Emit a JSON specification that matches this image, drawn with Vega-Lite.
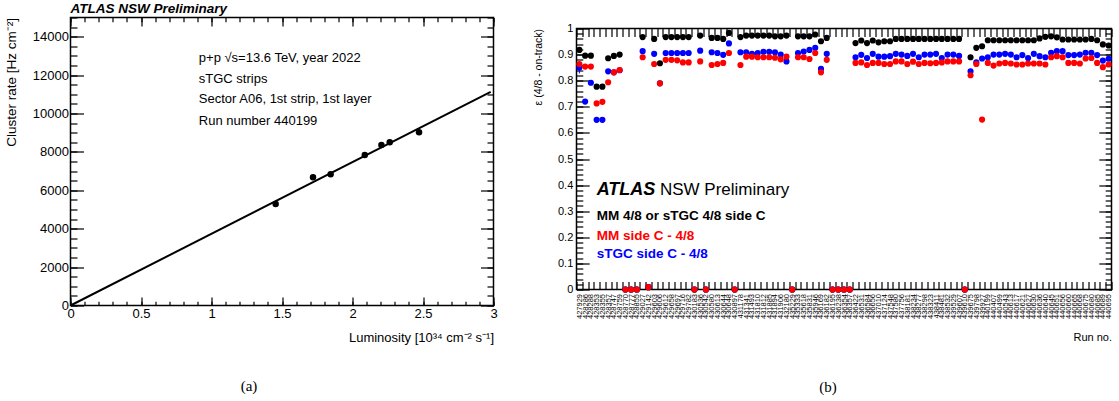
{
  "$schema": "https://vega.github.io/schema/vega-lite/v6.json",
  "background": "white",
  "padding": {"left": 3.5, "top": 1.5, "right": 0, "bottom": 0},
  "spacing": 34,
  "config": {
    "view": {"stroke": "#000", "strokeWidth": 1.5},
    "font": "Liberation Sans",
    "axis": {"domain": false, "grid": false, "labelFont": "Liberation Sans", "titleFont": "Liberation Sans", "labelColor": "#000", "titleColor": "#000", "tickColor": "#000", "tickWidth": 1.2, "titleFontWeight": "normal", "labelFlush": false}
  },
  "datasets": {
    "fit": [{"luminosity": 0, "rate": 0}, {"luminosity": 2.98, "rate": 11130}],
    "lumi": [
      {"luminosity": 1.455, "rate": 5286},
      {"luminosity": 1.72, "rate": 6677},
      {"luminosity": 1.845, "rate": 6833},
      {"luminosity": 2.087, "rate": 7839},
      {"luminosity": 2.205, "rate": 8359},
      {"luminosity": 2.264, "rate": 8500},
      {"luminosity": 2.472, "rate": 9021}
    ],
    "runs": [
      {"run": "427929", "all": 0.918, "mm": 0.864, "stgc": 0.851, "stgc_lo": 0.828, "stgc_hi": 0.866},
      {"run": "428286", "all": 0.896, "mm": 0.854, "stgc": 0.72},
      {"run": "428288", "all": 0.896, "mm": 0.854, "stgc": 0.792},
      {"run": "428353", "all": 0.777, "mm": 0.713, "stgc": 0.65},
      {"run": "428355", "all": 0.777, "mm": 0.719, "stgc": 0.65},
      {"run": "428357", "all": 0.886, "mm": 0.794, "stgc": 0.836},
      {"run": "428747", "all": 0.895, "mm": 0.832, "stgc": 0.832},
      {"run": "428759", "all": 0.9, "mm": 0.841, "stgc": 0.84},
      {"run": "428770", "all": 0, "mm": 0, "stgc": 0},
      {"run": "428777", "all": 0, "mm": 0, "stgc": 0},
      {"run": "428855", "all": 0, "mm": 0, "stgc": 0},
      {"run": "429027", "all": 0.967, "mm": 0.89, "stgc": 0.913},
      {"run": "429142", "all": 0.009, "mm": 0.009, "stgc": 0.009},
      {"run": "429603", "all": 0.96, "mm": 0.864, "stgc": 0.903},
      {"run": "429606", "all": 0.867, "mm": 0.79, "stgc": 0.79},
      {"run": "429612", "all": 0.967, "mm": 0.88, "stgc": 0.906},
      {"run": "429658", "all": 0.967, "mm": 0.88, "stgc": 0.906},
      {"run": "429697", "all": 0.967, "mm": 0.878, "stgc": 0.906},
      {"run": "429716", "all": 0.967, "mm": 0.87, "stgc": 0.906},
      {"run": "429782", "all": 0.967, "mm": 0.87, "stgc": 0.906},
      {"run": "430183", "all": 0, "mm": 0, "stgc": 0},
      {"run": "430536", "all": 0.973, "mm": 0.874, "stgc": 0.915},
      {"run": "430542", "all": 0, "mm": 0, "stgc": 0},
      {"run": "430580", "all": 0.964, "mm": 0.86, "stgc": 0.909},
      {"run": "430613", "all": 0.964, "mm": 0.864, "stgc": 0.906},
      {"run": "430644", "all": 0.96, "mm": 0.868, "stgc": 0.899},
      {"run": "430648", "all": 0.983, "mm": 0.906, "stgc": 0.943},
      {"run": "430897", "all": 0, "mm": 0, "stgc": 0},
      {"run": "431178", "all": 0.967, "mm": 0.86, "stgc": 0.909},
      {"run": "431341", "all": 0.973, "mm": 0.892, "stgc": 0.909},
      {"run": "431493", "all": 0.973, "mm": 0.892, "stgc": 0.903},
      {"run": "431810", "all": 0.973, "mm": 0.89, "stgc": 0.906},
      {"run": "431812", "all": 0.973, "mm": 0.89, "stgc": 0.911},
      {"run": "431885", "all": 0.973, "mm": 0.89, "stgc": 0.911},
      {"run": "431894", "all": 0.97, "mm": 0.888, "stgc": 0.909},
      {"run": "431906", "all": 0.97, "mm": 0.882, "stgc": 0.9},
      {"run": "432180", "all": 0.973, "mm": 0.892, "stgc": 0.874},
      {"run": "435229", "all": 0, "mm": 0, "stgc": 0},
      {"run": "435333", "all": 0.97, "mm": 0.89, "stgc": 0.906},
      {"run": "435618", "all": 0.97, "mm": 0.89, "stgc": 0.912},
      {"run": "435831", "all": 0.97, "mm": 0.883, "stgc": 0.918},
      {"run": "435946", "all": 0.977, "mm": 0.906, "stgc": 0.926},
      {"run": "436169", "all": 0.951, "mm": 0.832, "stgc": 0.845},
      {"run": "436182", "all": 0.964, "mm": 0.88, "stgc": 0.903},
      {"run": "436195", "all": 0, "mm": 0, "stgc": 0},
      {"run": "436238", "all": 0, "mm": 0, "stgc": 0},
      {"run": "436354", "all": 0, "mm": 0, "stgc": 0},
      {"run": "436357", "all": 0, "mm": 0, "stgc": 0},
      {"run": "436422", "all": 0.944, "mm": 0.868, "stgc": 0.89},
      {"run": "436531", "all": 0.954, "mm": 0.87, "stgc": 0.899},
      {"run": "436584", "all": 0.944, "mm": 0.86, "stgc": 0.887},
      {"run": "436656", "all": 0.954, "mm": 0.868, "stgc": 0.903},
      {"run": "437010", "all": 0.947, "mm": 0.868, "stgc": 0.892},
      {"run": "437124", "all": 0.951, "mm": 0.864, "stgc": 0.892},
      {"run": "437548", "all": 0.951, "mm": 0.864, "stgc": 0.894},
      {"run": "437580", "all": 0.96, "mm": 0.874, "stgc": 0.903},
      {"run": "437756", "all": 0.96, "mm": 0.874, "stgc": 0.9},
      {"run": "438181", "all": 0.96, "mm": 0.864, "stgc": 0.895},
      {"run": "438234", "all": 0.96, "mm": 0.873, "stgc": 0.903},
      {"run": "438277", "all": 0.96, "mm": 0.864, "stgc": 0.89},
      {"run": "438298", "all": 0.96, "mm": 0.868, "stgc": 0.9},
      {"run": "438323", "all": 0.96, "mm": 0.867, "stgc": 0.9},
      {"run": "438411", "all": 0.96, "mm": 0.868, "stgc": 0.903},
      {"run": "438481", "all": 0.96, "mm": 0.87, "stgc": 0.887},
      {"run": "438532", "all": 0.96, "mm": 0.874, "stgc": 0.9},
      {"run": "439529", "all": 0.96, "mm": 0.874, "stgc": 0.9},
      {"run": "439607", "all": 0.96, "mm": 0.874, "stgc": 0.895},
      {"run": "439610", "all": 0, "mm": 0, "stgc": 0},
      {"run": "439675", "all": 0.89, "mm": 0.821, "stgc": 0.836},
      {"run": "439798", "all": 0.926, "mm": 0.864, "stgc": 0.87},
      {"run": "439927", "all": 0.932, "mm": 0.651, "stgc": 0.885},
      {"run": "440199", "all": 0.955, "mm": 0.868, "stgc": 0.89},
      {"run": "440407", "all": 0.955, "mm": 0.858, "stgc": 0.9},
      {"run": "440499", "all": 0.955, "mm": 0.866, "stgc": 0.9},
      {"run": "440543", "all": 0.955, "mm": 0.868, "stgc": 0.903},
      {"run": "440613", "all": 0.955, "mm": 0.866, "stgc": 0.9},
      {"run": "440617", "all": 0.955, "mm": 0.862, "stgc": 0.89},
      {"run": "440621", "all": 0.955, "mm": 0.862, "stgc": 0.898},
      {"run": "440627", "all": 0.955, "mm": 0.866, "stgc": 0.887},
      {"run": "440630", "all": 0.955, "mm": 0.866, "stgc": 0.903},
      {"run": "440636", "all": 0.962, "mm": 0.866, "stgc": 0.894},
      {"run": "440640", "all": 0.968, "mm": 0.862, "stgc": 0.89},
      {"run": "440645", "all": 0.97, "mm": 0.89, "stgc": 0.907},
      {"run": "440651", "all": 0.966, "mm": 0.894, "stgc": 0.913},
      {"run": "440656", "all": 0.958, "mm": 0.89, "stgc": 0.913},
      {"run": "440660", "all": 0.958, "mm": 0.868, "stgc": 0.898},
      {"run": "440665", "all": 0.958, "mm": 0.868, "stgc": 0.898},
      {"run": "440668", "all": 0.958, "mm": 0.866, "stgc": 0.9},
      {"run": "440675", "all": 0.958, "mm": 0.885, "stgc": 0.907},
      {"run": "440680", "all": 0.96, "mm": 0.887, "stgc": 0.907},
      {"run": "440685", "all": 0.955, "mm": 0.868, "stgc": 0.898},
      {"run": "440689", "all": 0.939, "mm": 0.852, "stgc": 0.877},
      {"run": "440695", "all": 0.935, "mm": 0.862, "stgc": 0.884}
    ]
  },
  "hconcat": [
    {
      "width": 423,
      "height": 288,
      "title": {"text": "ATLAS NSW Preliminary", "anchor": "start", "frame": "group", "fontSize": 13.5, "fontStyle": "italic", "fontWeight": "bold", "font": "Liberation Sans", "offset": 1, "color": "#000"},
      "resolve": {"axis": {"x": "independent", "y": "independent"}},
      "layer": [
        {
          "data": {"name": "fit"},
          "mark": {"type": "line", "color": "#000", "strokeWidth": 2},
          "encoding": {
            "x": {"field": "luminosity", "type": "quantitative", "scale": {"domain": [0, 3], "nice": false, "zero": true},
              "axis": {"orient": "bottom", "values": [0, 0.5, 1, 1.5, 2, 2.5, 3], "format": "~g", "tickSize": -8.5, "labelPadding": 10, "labelFontSize": 13,
                "title": "Luminosity [10³⁴ cm⁻² s⁻¹]", "titleAnchor": "end", "titleFontSize": 13, "titleBaseline": "alphabetic", "titleY": 35.5}},
            "y": {"field": "rate", "type": "quantitative", "scale": {"domain": [0, 15000], "nice": false},
              "axis": {"orient": "left", "values": [0, 2000, 4000, 6000, 8000, 10000, 12000, 14000], "format": "d", "tickSize": -13, "labelPadding": 15, "labelFontSize": 13,
                "title": "Cluster rate [Hz cm⁻²]", "titleAnchor": "end", "titleFontSize": 13.5, "titleX": -52}}
          }
        },
        {
          "data": {"name": "lumi"},
          "mark": {"type": "point", "filled": true, "opacity": 1, "size": 42, "color": "#000"},
          "encoding": {
            "x": {"field": "luminosity", "type": "quantitative",
              "axis": {"orient": "top", "values": [0, 0.5, 1, 1.5, 2, 2.5, 3], "tickSize": -8.5, "labels": false, "title": null}},
            "y": {"field": "rate", "type": "quantitative",
              "axis": {"orient": "right", "values": [0, 2000, 4000, 6000, 8000, 10000, 12000, 14000], "tickSize": -13, "labels": false, "title": null}}
          }
        },
        {
          "data": {"values": [{}]},
          "mark": {"type": "text", "text": "p+p √s=13.6 TeV, year 2022", "align": "left", "baseline": "alphabetic", "fontSize": 13, "font": "Liberation Sans", "color": "#000"},
          "encoding": {
            "x": {"datum": 0.91, "type": "quantitative",
              "axis": {"orient": "bottom", "values": [0, 0.1, 0.2, 0.3, 0.4, 0.5, 0.6, 0.7, 0.8, 0.9, 1, 1.1, 1.2, 1.3, 1.4, 1.5, 1.6, 1.7, 1.8, 1.9, 2, 2.1, 2.2, 2.3, 2.4, 2.5, 2.6, 2.7, 2.8, 2.9, 3], "tickSize": -4.3, "labels": false,
                "title": "(a)", "titleFont": "Liberation Serif", "titleFontSize": 15, "titleX": 178, "titleY": 84.5, "titleAlign": "center", "titleBaseline": "alphabetic"}},
            "y": {"datum": 12700, "type": "quantitative",
              "axis": {"orient": "left", "values": [0, 500, 1000, 1500, 2000, 2500, 3000, 3500, 4000, 4500, 5000, 5500, 6000, 6500, 7000, 7500, 8000, 8500, 9000, 9500, 10000, 10500, 11000, 11500, 12000, 12500, 13000, 13500, 14000, 14500, 15000], "tickSize": -6.5, "labels": false, "title": null}}
          }
        },
        {
          "data": {"values": [{}]},
          "mark": {"type": "text", "text": "sTGC strips", "align": "left", "baseline": "alphabetic", "fontSize": 13, "font": "Liberation Sans", "color": "#000"},
          "encoding": {
            "x": {"datum": 0.91, "type": "quantitative",
              "axis": {"orient": "top", "values": [0, 0.1, 0.2, 0.3, 0.4, 0.5, 0.6, 0.7, 0.8, 0.9, 1, 1.1, 1.2, 1.3, 1.4, 1.5, 1.6, 1.7, 1.8, 1.9, 2, 2.1, 2.2, 2.3, 2.4, 2.5, 2.6, 2.7, 2.8, 2.9, 3], "tickSize": -4.3, "labels": false, "title": null}},
            "y": {"datum": 11573, "type": "quantitative",
              "axis": {"orient": "right", "values": [0, 500, 1000, 1500, 2000, 2500, 3000, 3500, 4000, 4500, 5000, 5500, 6000, 6500, 7000, 7500, 8000, 8500, 9000, 9500, 10000, 10500, 11000, 11500, 12000, 12500, 13000, 13500, 14000, 14500, 15000], "tickSize": -6.5, "labels": false, "title": null}}
          }
        },
        {
          "data": {"values": [{}]},
          "mark": {"type": "text", "text": "Sector A06, 1st strip, 1st layer", "align": "left", "baseline": "alphabetic", "fontSize": 13, "font": "Liberation Sans", "color": "#000"},
          "encoding": {
            "x": {"datum": 0.91, "type": "quantitative", "axis": null},
            "y": {"datum": 10531, "type": "quantitative", "axis": null}
          }
        },
        {
          "data": {"values": [{}]},
          "mark": {"type": "text", "text": "Run number 440199", "align": "left", "baseline": "alphabetic", "fontSize": 13, "font": "Liberation Sans", "color": "#000"},
          "encoding": {
            "x": {"datum": 0.91, "type": "quantitative", "axis": null},
            "y": {"datum": 9401, "type": "quantitative", "axis": null}
          }
        }
      ]
    },
    {
      "spacing": 3,
      "vconcat": [
        {
          "width": 535,
          "height": 1,
          "data": {"values": []},
          "mark": {"type": "text"},
          "view": {"stroke": null}
        },
        {
          "width": 535,
          "height": 261,
          "resolve": {"axis": {"x": "independent", "y": "independent"}},
          "data": {"name": "runs"},
          "layer": [
            {
              "mark": {"type": "point", "filled": true, "opacity": 1, "size": 38, "color": "#000"},
              "encoding": {
                "x": {"field": "run", "type": "nominal", "sort": null, "scale": {"type": "band", "paddingInner": 0, "paddingOuter": 0},
                  "axis": {"orient": "bottom", "tickSize": -8, "tickBand": "extent", "labelPadding": 12, "labelAngle": 270, "labelFontSize": 7.5, "labelOverlap": false,
                    "title": "Run no.", "titleAnchor": "end", "titleFontSize": 11, "titleBaseline": "alphabetic", "titleY": 51}},
                "y": {"field": "all", "type": "quantitative", "scale": {"domain": [0, 1], "nice": false},
                  "axis": {"orient": "left", "values": [0, 0.1, 0.2, 0.3, 0.4, 0.5, 0.6, 0.7, 0.8, 0.9, 1], "format": ".1~f", "tickSize": -12.7, "labelPadding": 16.4, "labelFontSize": 11,
                    "title": "ε (4/8 - on-track)", "titleAnchor": "end", "titleFontSize": 10.5, "titleX": -33}}
              }
            },
            {
              "transform": [{"filter": "isValid(datum.stgc_lo)"}],
              "mark": {"type": "rule", "color": "#0000ff", "strokeWidth": 1},
              "encoding": {
                "x": {"field": "run", "type": "nominal", "sort": null, "axis": null},
                "y": {"field": "stgc_lo", "type": "quantitative", "axis": null},
                "y2": {"field": "stgc_hi"}
              }
            },
            {
              "mark": {"type": "point", "filled": true, "opacity": 1, "size": 38, "color": "#0000ff"},
              "encoding": {
                "x": {"field": "run", "type": "nominal", "sort": null,
                  "axis": {"orient": "top", "tickSize": -8, "tickBand": "extent", "labels": false, "title": null}},
                "y": {"field": "stgc", "type": "quantitative",
                  "axis": {"orient": "right", "values": [0, 0.1, 0.2, 0.3, 0.4, 0.5, 0.6, 0.7, 0.8, 0.9, 1], "tickSize": -12.7, "labels": false, "title": null}}
              }
            },
            {
              "mark": {"type": "point", "filled": true, "opacity": 1, "size": 38, "color": "#ff0000"},
              "encoding": {
                "x": {"field": "run", "type": "nominal", "sort": null,
                  "axis": {"orient": "bottom", "ticks": false, "labels": false,
                    "title": "(b)", "titleFont": "Liberation Serif", "titleFontSize": 15, "titleX": 251, "titleY": 101.5, "titleAlign": "center", "titleBaseline": "alphabetic"}},
                "y": {"field": "mm", "type": "quantitative",
                  "axis": {"orient": "left", "values": [0, 0.02, 0.04, 0.06, 0.08, 0.1, 0.12, 0.14, 0.16, 0.18, 0.2, 0.22, 0.24, 0.26, 0.28, 0.3, 0.32, 0.34, 0.36, 0.38, 0.4, 0.42, 0.44, 0.46, 0.48, 0.5, 0.52, 0.54, 0.56, 0.58, 0.6, 0.62, 0.64, 0.66, 0.68, 0.7, 0.72, 0.74, 0.76, 0.78, 0.8, 0.82, 0.84, 0.86, 0.88, 0.9, 0.92, 0.94, 0.96, 0.98, 1], "tickSize": -6.3, "labels": false, "title": null}}
              }
            },
            {
              "transform": [{"filter": "datum.run === '428353'"}],
              "mark": {"type": "text", "text": "ATLAS", "align": "left", "baseline": "alphabetic", "fontSize": 18, "fontStyle": "italic", "fontWeight": "bold", "font": "Liberation Sans", "color": "#000"},
              "encoding": {
                "x": {"field": "run", "type": "nominal", "sort": null, "axis": null},
                "y": {"datum": 0.361, "type": "quantitative",
                  "axis": {"orient": "right", "values": [0, 0.02, 0.04, 0.06, 0.08, 0.1, 0.12, 0.14, 0.16, 0.18, 0.2, 0.22, 0.24, 0.26, 0.28, 0.3, 0.32, 0.34, 0.36, 0.38, 0.4, 0.42, 0.44, 0.46, 0.48, 0.5, 0.52, 0.54, 0.56, 0.58, 0.6, 0.62, 0.64, 0.66, 0.68, 0.7, 0.72, 0.74, 0.76, 0.78, 0.8, 0.82, 0.84, 0.86, 0.88, 0.9, 0.92, 0.94, 0.96, 0.98, 1], "tickSize": -6.3, "labels": false, "title": null}}
              }
            },
            {
              "transform": [{"filter": "datum.run === '429606'"}],
              "mark": {"type": "text", "text": "NSW Preliminary", "align": "left", "baseline": "alphabetic", "fontSize": 17, "font": "Liberation Sans", "color": "#000"},
              "encoding": {
                "x": {"field": "run", "type": "nominal", "sort": null, "axis": null},
                "y": {"datum": 0.361, "type": "quantitative", "axis": null}
              }
            },
            {
              "transform": [{"filter": "datum.run === '428353'"}],
              "mark": {"type": "text", "text": "MM 4/8 or sTGC 4/8 side C", "align": "left", "baseline": "alphabetic", "fontSize": 13.5, "fontWeight": "bold", "font": "Liberation Sans", "color": "#000"},
              "encoding": {
                "x": {"field": "run", "type": "nominal", "sort": null, "axis": null},
                "y": {"datum": 0.266, "type": "quantitative", "axis": null}
              }
            },
            {
              "transform": [{"filter": "datum.run === '428353'"}],
              "mark": {"type": "text", "text": "MM side C - 4/8", "align": "left", "baseline": "alphabetic", "fontSize": 13.5, "fontWeight": "bold", "font": "Liberation Sans", "color": "#ff0000"},
              "encoding": {
                "x": {"field": "run", "type": "nominal", "sort": null, "axis": null},
                "y": {"datum": 0.19, "type": "quantitative", "axis": null}
              }
            },
            {
              "transform": [{"filter": "datum.run === '428353'"}],
              "mark": {"type": "text", "text": "sTGC side C - 4/8", "align": "left", "baseline": "alphabetic", "fontSize": 13.5, "fontWeight": "bold", "font": "Liberation Sans", "color": "#0000ff"},
              "encoding": {
                "x": {"field": "run", "type": "nominal", "sort": null, "axis": null},
                "y": {"datum": 0.119, "type": "quantitative", "axis": null}
              }
            }
          ]
        }
      ]
    }
  ]
}
